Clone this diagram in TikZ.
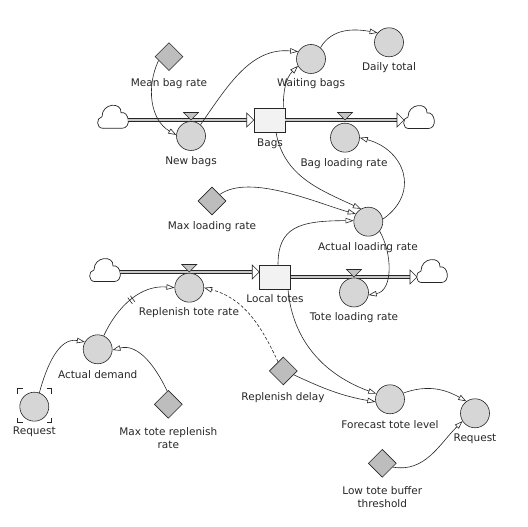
\documentclass[tikz,border=0pt]{standalone}
\usepackage{fontspec}
\setmainfont{DejaVu Sans}
\usetikzlibrary{arrows.meta,shapes.geometric,decorations.markings,calc}
\definecolor{auxfill}{HTML}{D6D6D6}
\definecolor{constfill}{HTML}{BDBDBD}
\definecolor{stockfill}{HTML}{F2F2F2}
\definecolor{valvefill}{HTML}{C4C4C4}
\definecolor{pipefill}{HTML}{C8C8C8}
\definecolor{ink}{HTML}{262626}
\begin{document}
\begin{tikzpicture}[x=1pt,y=1pt,
  aux/.style={circle, draw=ink, fill=auxfill, minimum size=29pt, inner sep=0pt, line width=0.6pt},
  const/.style={diamond, draw=ink, fill=constfill, minimum size=28pt, inner sep=0pt, aspect=1, line width=0.6pt},
  stock/.style={rectangle, draw=ink, fill=stockfill, minimum width=31pt, minimum height=24pt, inner sep=0pt, line width=0.6pt},
  lbl/.style={font=\fontsize{10.5}{13}\selectfont, inner sep=0pt, align=center, text=ink},
  link/.style={draw=ink, line width=0.6pt, -{Triangle[open, length=8pt, width=5.5pt]}},
  dashlink/.style={link, dash pattern=on 3pt off 2pt},
  delaylink/.style={link, postaction={decorate}, decoration={markings,
     mark=at position 0.5 with {\draw[-, solid, line width=0.6pt, draw=ink] (-1.6,-3.8) -- (-1.6,3.8) (1.6,-3.8) -- (1.6,3.8);}}},
  pipe/.style={draw=ink, line width=1pt, double=pipefill, double distance=2pt},
  bracket/.style={draw=ink, line width=1pt},
  cloudshape/.pic={\draw[draw=ink, line width=0.7pt, fill=white] (-10,-11.6) .. controls (-17,-11.6) and (-17,-1) .. (-11,0)
      .. controls (-11,14) and (9,15) .. (8,4) .. controls (16,6) and (19,-11.6) .. (9,-11.6) -- cycle;},
  valve/.pic={\draw[draw=ink, fill=valvefill, line width=0.6pt] (-7.5,7.5) -- (7.5,7.5) -- (0,0) -- cycle;},
  pipehead/.pic={\draw[draw=ink, fill=white, line width=0.6pt] (-7,7) -- (0,0) -- (-7,-7) -- cycle;}
]
\useasboundingbox (0,0) rectangle (528,527);

% clouds and pipe end points
\pic at (113,410.3) {cloudshape};
\pic at (419,410) {cloudshape};
\pic at (105,257) {cloudshape};
\pic at (432,256) {cloudshape};
\coordinate (c1e) at (128,407);
\coordinate (c2w) at (404,407);
\coordinate (c3e) at (120,255);
\coordinate (c4w) at (417,250);

% stocks
\node[stock] (bags) at (269.5,407) {};
\node[stock] (totes) at (275,250) {};
\coordinate (t3) at ([yshift=5pt]totes.west);

% pipes
\draw[pipe] (c1e) -- ([xshift=-7pt]bags.west);
\pic at (bags.west) {pipehead};
\draw[pipe] (bags.east) -- ([xshift=-7pt]c2w);
\pic at (c2w) {pipehead};
\draw[pipe] (c3e) -- ([xshift=-7pt]t3);
\pic at (t3) {pipehead};
\draw[pipe] (totes.east) -- ([xshift=-7pt]c4w);
\pic at (c4w) {pipehead};

% valves
\pic at (191,407) {valve};
\pic at (345,407) {valve};
\pic at (189.3,255) {valve};
\pic at (354,250) {valve};

% variables
\node[const] (meanbag) at (169,470.3) {};
\node[aux] (newbags) at (191,391) {};
\node[aux] (waiting) at (311,468) {};
\node[aux] (daily) at (389,484.7) {};
\node[aux] (bagload) at (345,389.3) {};
\node[const] (maxload) at (212,326) {};
\node[aux] (actual) at (368.3,305.3) {};
\node[aux] (toteload) at (354,234.5) {};
\node[aux] (replenish) at (189.3,239.3) {};
\node[aux] (demand) at (97.7,177.7) {};
\node[aux] (reqL) at (34.3,120.3) {};
\node[const] (maxtote) at (168.3,122.7) {};
\node[const] (delay) at (283.3,156) {};
\node[aux] (forecast) at (390,127.7) {};
\node[aux] (reqR) at (475,113.7) {};
\node[const] (lowtote) at (382.3,63.7) {};

% ghost brackets
\draw[bracket] ([shift={(-17,12)}]34.5,121) -- ++(0,5) -- ++(5,0);
\draw[bracket] ([shift={(12,17)}]34.5,121) -- ++(5,0) -- ++(0,-5);
\draw[bracket] ([shift={(17,-12)}]34.5,121) -- ++(0,-5) -- ++(-5,0);
\draw[bracket] ([shift={(-12,-17)}]34.5,121) -- ++(-5,0) -- ++(0,5);

% labels
\node[lbl] (lmean) at (169,443) {Mean bag rate};
\node[lbl] (lnew) at (191,365) {New bags};
\node[lbl] (lbags) at (270,383) {Bags};
\node[lbl] (lwait) at (311,443) {Waiting bags};
\node[lbl] (ldaily) at (389,459) {Daily total};
\node[lbl] (lbagload) at (344,363) {Bag loading rate};
\node[lbl] (lmaxload) at (212,300) {Max loading rate};
\node[lbl] (lactual) at (368,279) {Actual loading rate};
\node[lbl] (ltotes) at (275,228) {Local totes};
\node[lbl] (ltoteload) at (354,209.3) {Tote loading rate};
\node[lbl] (lrepl) at (189,214.3) {Replenish tote rate};
\node[lbl] (ldemand) at (97.7,152) {Actual demand};
\node[lbl] (lreql) at (34.3,95) {Request};
\node[lbl] (lmaxtote) at (168.3,89) {Max tote replenish\\rate};
\node[lbl] (ldelay) at (283,129) {Replenish delay};
\node[lbl] (lforecast) at (390,102) {Forecast tote level};
\node[lbl] (lreqr) at (475,88) {Request};
\node[lbl] (llow) at (382.3,30) {Low tote buffer\\threshold};

% links
\draw[link] (meanbag.200) to[out=245, in=150] (newbags.176);
\draw[link] (newbags.50) to[out=55, in=175] (waiting.150);
\draw[link] ([xshift=-2pt]bags.north east) to[out=90, in=225] (waiting.208);
\draw[link] (waiting.50) to[out=60, in=170] (daily.140);
\draw[link] ([xshift=6.5pt]bags.south) to[out=-80, in=155] (actual.120);
\draw[link] (actual.10) to[out=35, in=-15, looseness=1.4] (bagload.0);
\draw[link] (maxload.40) to[out=35, in=165, looseness=0.7] (actual.148);
\draw[link] ([xshift=3pt]totes.north) to[out=90, in=180, out looseness=1.1, in looseness=1.6] (actual.176);
\draw[link] (actual.-40) to[out=-60, in=10] (toteload.-10);
\draw[link] ([xshift=13pt]totes.south) to[out=-85, in=160] (forecast.158);
\draw[link] (delay.-20) to[out=-25, in=170] (forecast.190);
\draw[dashlink] (delay.120) to[out=115, in=-15] (replenish.0);
\draw[link] (forecast.25) to[out=20, in=150] (reqR.126);
\draw[link] (lowtote.-20) to[out=-10, in=225] (reqR.212);
\draw[link] (reqL.70) to[out=75, in=170] (demand.150);
\draw[link] (maxtote.95) to[out=115, in=15] (demand.-3);
\draw[delaylink] (demand.66) to[out=65, in=175] (replenish.180);
\end{tikzpicture}
\end{document}
